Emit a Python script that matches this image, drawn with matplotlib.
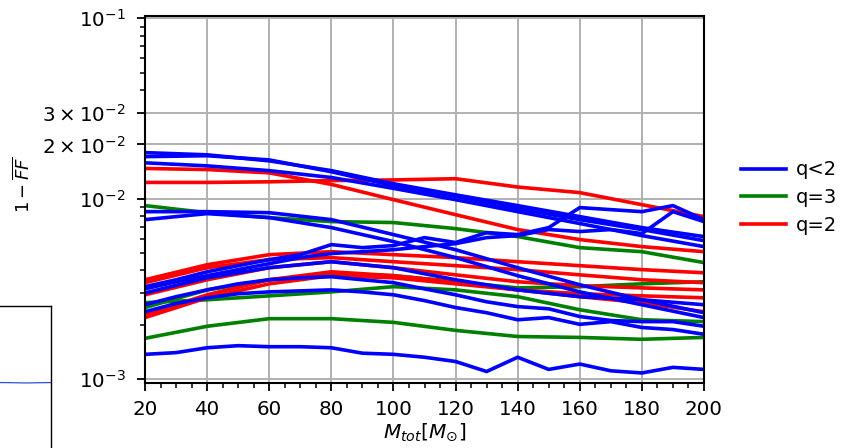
import matplotlib
matplotlib.use("Agg")
import matplotlib.pyplot as plt
from matplotlib.lines import Line2D
import numpy as np

# ---------------- data ----------------
mass_coarse = [20, 40, 60, 80, 100, 120, 140, 160, 180, 200]
mass_fine = [20, 30, 40, 50, 60, 70, 80, 90, 100, 110, 120, 130, 140, 150, 160, 170, 180, 190, 200]

# q<2 (blue), values in units of 1e-3
blue_a = [18.0, 17.5, 16.2, 14.3, 12.1, 10.5, 9.15, 7.95, 6.91, 6.16]
blue_b = [17.1, 17.3, 16.4, 14.1, 11.8, 10.3, 8.80, 7.65, 6.74, 5.85]
blue_c = [15.8, 15.2, 14.3, 13.1, 11.4, 9.87, 8.47, 7.28, 6.24, 5.42]
blue_d = [8.47, 8.47, 8.36, 7.65, 6.32, 5.21, 4.14, 3.33, 2.75, 2.33]
blue_e = [7.65, 8.26, 7.85, 6.91, 5.78, 4.71, 3.74, 3.04, 2.58, 2.19]
blue_f = [3.00, 3.64, 4.14, 4.47, 4.14, 3.55, 3.12, 2.86, 2.75, 2.58]
blue_g = [2.58, 2.86, 3.12, 3.37, 3.55, 3.64, 3.69, 3.55, 3.42, 3.16,
          2.93, 2.68, 2.52, 2.45, 2.22, 2.11, 2.08, 2.08, 1.96]
blue_h = [2.36, 2.62, 2.82, 2.97, 3.04, 3.08, 3.12, 3.04, 2.93, 2.72,
          2.49, 2.33, 2.13, 2.19, 2.01, 2.08, 1.93, 1.88, 1.77]
blue_noisy_1 = [3.25, 3.55, 3.93, 4.25, 4.59, 4.89, 5.56, 5.35, 5.49, 6.08,
                5.71, 6.48, 6.32, 6.91, 8.92, 8.69, 8.47, 9.15, 7.65]
blue_noisy_2 = [3.16, 3.46, 3.74, 4.04, 4.36, 4.71, 4.96, 5.08, 5.21, 5.42,
                5.63, 6.08, 6.24, 6.74, 6.57, 6.74, 6.40, 8.47, 7.46]
blue_bottom = [1.37, 1.40, 1.49, 1.53, 1.51, 1.51, 1.49, 1.39, 1.37, 1.32,
               1.25, 1.10, 1.32, 1.13, 1.21, 1.11, 1.08, 1.16, 1.13]

# q=3 (green)
green_a = [9.15, 8.36, 7.85, 7.46, 7.37, 6.82, 6.16, 5.35, 5.08, 4.42]
green_b = [2.49, 3.12, 3.55, 3.83, 3.74, 3.46, 3.20, 3.25, 3.37, 3.46]
green_c = [2.65, 2.75, 2.89, 3.04, 3.25, 3.12, 2.86, 2.42, 2.13, 2.08]
green_d = [1.68, 1.96, 2.16, 2.16, 2.06, 1.86, 1.72, 1.70, 1.66, 1.70]

# q=2 (red)
red_a = [14.7, 14.5, 13.9, 12.0, 9.87, 8.15, 6.74, 5.93, 5.42, 5.08]
red_b = [12.3, 12.3, 12.4, 12.6, 12.7, 12.9, 11.6, 10.8, 9.26, 7.95]
red_c = [3.55, 4.30, 4.89, 5.08, 4.89, 4.71, 4.47, 4.25, 4.04, 3.88]
red_d = [3.42, 4.14, 4.59, 4.71, 4.47, 4.25, 4.04, 3.78, 3.55, 3.42]
red_e = [2.93, 3.55, 4.14, 4.47, 4.14, 3.78, 3.46, 3.29, 3.20, 3.12]
red_f = [2.27, 2.93, 3.55, 3.93, 3.74, 3.46, 3.12, 2.86, 2.65, 2.36]
red_g = [2.19, 2.82, 3.37, 3.74, 3.64, 3.37, 3.12, 2.97, 2.89, 2.82]

legend_labels = ["q<2", "q=3", "q=2"]
series_colors = ["blue", "green", "red"]

# fragment of neighbouring panel (bottom-left)
inset_x = [0, 1, 2, 3, 4, 5, 6, 7, 8, 9, 10]
inset_y = [0.64, 0.60, 0.585, 0.59, 0.59, 0.588, 0.59, 0.59, 0.589, 0.59, 0.59]

# ---------------- figure ----------------
fig = plt.figure(figsize=(8.42, 4.48), dpi=100)
ax = fig.add_axes([145/842, 1-383/448, 559/842, 367/448])

scale = 1e-3
lw = 2.6
for s in [green_a, green_b, green_c, green_d]:
    ax.plot(mass_coarse, np.array(s)*scale, color="green", lw=lw)
for s in [red_a, red_b, red_c, red_d, red_e, red_f, red_g]:
    ax.plot(mass_coarse, np.array(s)*scale, color="red", lw=lw)
for s in [blue_a, blue_b, blue_c, blue_d, blue_e, blue_f]:
    ax.plot(mass_coarse, np.array(s)*scale, color="blue", lw=lw)
for s in [blue_g, blue_h, blue_noisy_1, blue_noisy_2, blue_bottom]:
    ax.plot(mass_fine, np.array(s)*scale, color="blue", lw=lw)

ax.set_yscale("log")
ax.set_xlim(20, 200)
ax.set_ylim(0.000950, 0.1030)

ax.set_xticks([20, 40, 60, 80, 100, 120, 140, 160, 180, 200])
ax.set_xticks(np.arange(20, 201, 5), minor=True)

major_y = [1e-3, 1e-2, 2e-2, 3e-2, 1e-1]
ax.set_yticks(major_y)
ax.set_yticklabels([r"$10^{-3}$", r"$10^{-2}$", r"$2\times10^{-2}$",
                    r"$3\times10^{-2}$", r"$10^{-1}$"])
minor_y = [k*1e-3 for k in range(2, 10)] + [k*1e-2 for k in range(4, 10)]
ax.set_yticks(minor_y, minor=True)
ax.yaxis.set_minor_formatter(matplotlib.ticker.NullFormatter())

ax.tick_params(axis="both", which="major", labelsize=14.3, length=6, width=1.3)
ax.tick_params(axis="y", which="major", pad=8)
ax.tick_params(axis="x", which="major", pad=6)
ax.tick_params(axis="both", which="minor", length=3.5, width=1.1)
ax.grid(True, which="major", color="#b0b0b0", lw=1.4)
ax.set_axisbelow(True)
for sp in ax.spines.values():
    sp.set_linewidth(1.5)

ax.set_xlabel(r"$M_{tot}[M_{\odot}]$", fontsize=14.5, labelpad=2)
ax.set_ylabel(r"$1-\overline{FF}$", fontsize=13)
ax.yaxis.set_label_coords(-0.198, 0.54)

handles = [Line2D([0], [0], color=c, lw=2.6) for c in series_colors]
ax.legend(handles, legend_labels, loc="center left", bbox_to_anchor=(1.035, 0.505),
          frameon=False, fontsize=14, handlelength=2.3, handletextpad=0.5,
          labelspacing=0.45)

# neighbouring panel fragment
ax2 = fig.add_axes([-0.1, -0.1, 0.1606, 0.417])
ax2.plot(np.array(inset_x)/10, inset_y, color="#3050d0", lw=0.9)
ax2.set_xlim(0, 0.61)
ax2.set_ylim(0, 1)
ax2.set_xticks([])
ax2.set_yticks([])
for sp in ax2.spines.values():
    sp.set_linewidth(1.0)

fig.savefig("out.png", dpi=100)
